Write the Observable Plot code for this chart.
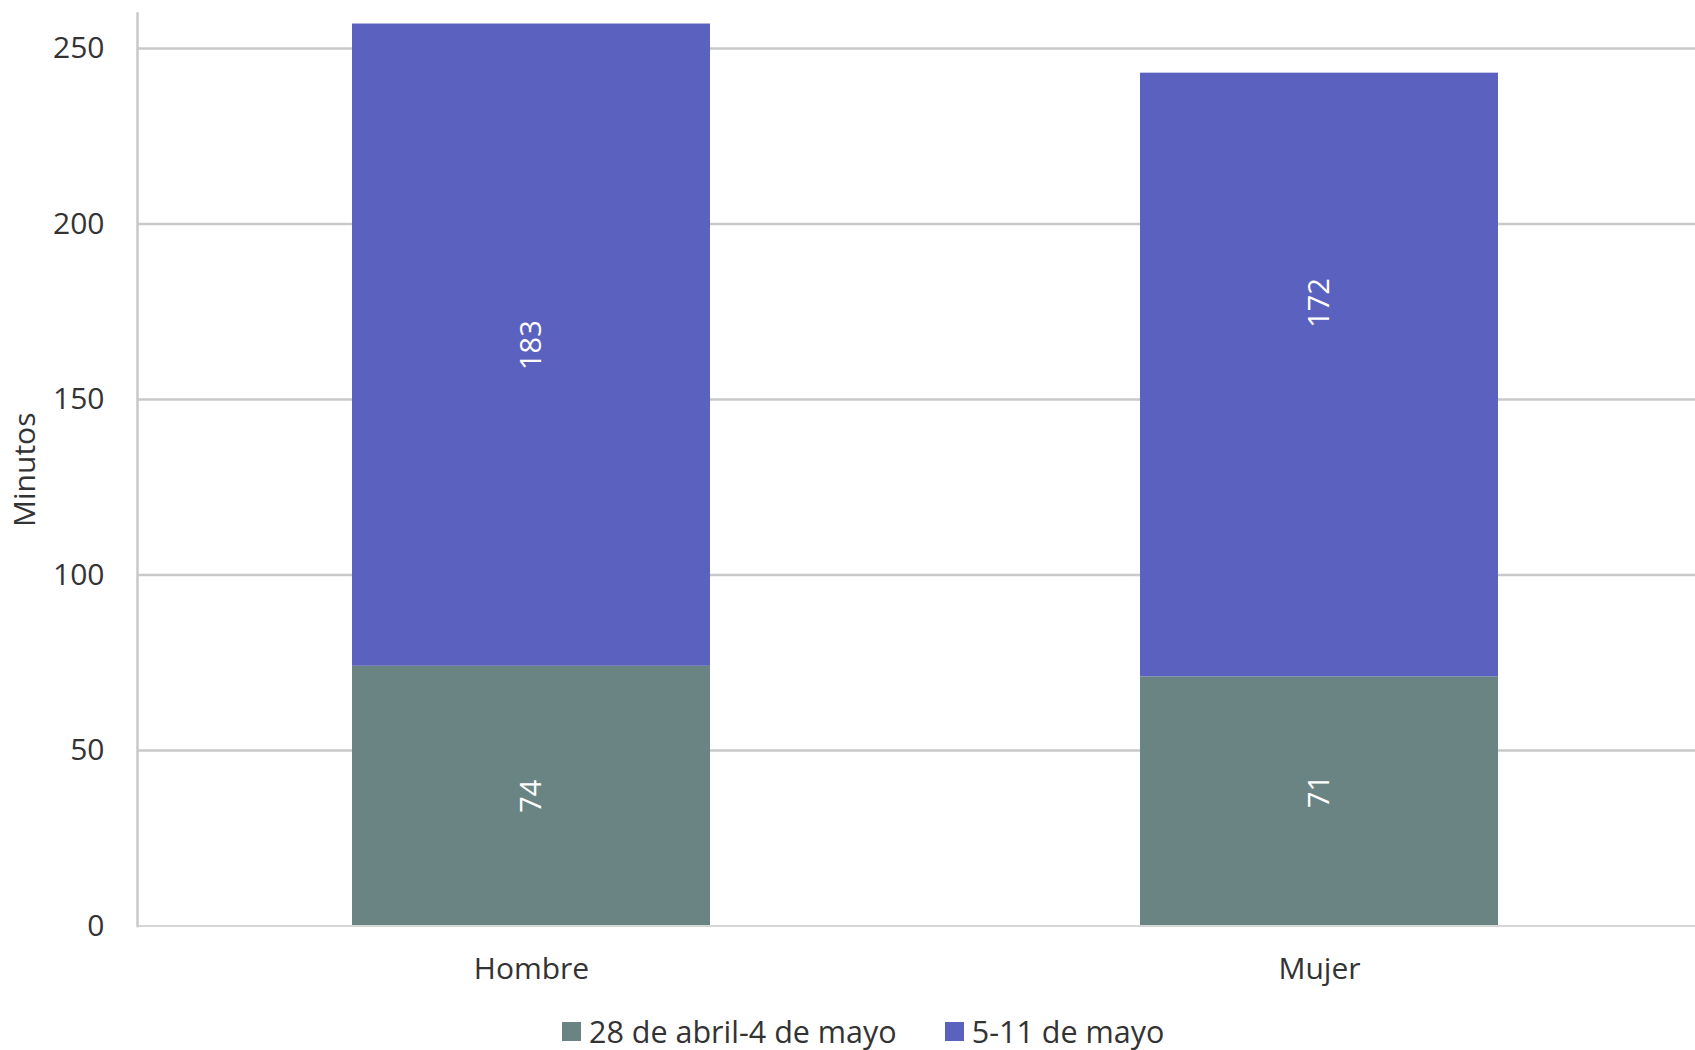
<!DOCTYPE html>
<html><head><meta charset="utf-8">
<script src="https://cdn.jsdelivr.net/npm/d3@7"></script>
<script src="https://cdn.jsdelivr.net/npm/@observablehq/plot@0.6"></script>
<style>
html,body{margin:0;padding:0;background:#fff;overflow:hidden;}
body{font-family:"Open Sans",sans-serif;width:1695px;height:1050px;}
#chart svg{display:block;}
#legend{display:flex;align-items:center;margin-left:562px;margin-top:11px;font-size:30.5px;color:#333;height:40px;font-family:"Open Sans",sans-serif;}
.item{display:flex;align-items:center;margin-right:48px;}
.sw{width:19px;height:19px;margin-right:8px;}
</style></head><body>
<div id="chart"></div><div id="legend"></div>
<script>
const categories = ["Hombre", "Mujer"];
const series = ["28 de abril-4 de mayo", "5-11 de mayo"];
const valuesAbril = [74, 71];
const valuesMayo = [183, 172];
const colors = ["#6a8483", "#5b61be"];
const yTicks = [0, 50, 100, 150, 200, 250];
const yLabel = "Minutos";

const data = categories.flatMap((c, i) => [
  {cat: c, series: series[0], value: valuesAbril[i]},
  {cat: c, series: series[1], value: valuesMayo[i]}
]);

const labelStyle = {rotate: -90, fill: "white", fontSize: 29};
const hombre = data.filter(d => d.cat === categories[0]);
const mujer = data.filter(d => d.cat === categories[1]);

const chart = Plot.plot({
  width: 1695,
  height: 1000,
  marginLeft: 137,
  marginRight: 0,
  marginTop: 13,
  marginBottom: 74.5,
  style: {fontFamily: "'Open Sans', sans-serif", fontSize: "30px", color: "#333", background: "white"},
  x: {domain: categories, range: [137, 1713], paddingInner: 0.546, paddingOuter: 0.273, label: null},
  y: {domain: [0, 260], label: null},
  color: {domain: series, range: colors},
  marks: [
    Plot.ruleY(yTicks.filter(d => d > 0), {stroke: "#c9c9c9", strokeWidth: 2.5}),
    Plot.barY(data, {x: "cat", y: "value", fill: "series", z: "series"}),
    Plot.ruleY([0], {stroke: "#d6d6d6", strokeWidth: 2}),
    Plot.frame({anchor: "left", stroke: "#c9c9c9", strokeWidth: 2.5}),
    Plot.text(hombre, Plot.stackY({x: "cat", y: "value", z: "series", text: d => String(d.value), ...labelStyle})),
    Plot.text(mujer, Plot.stackY({x: "cat", y: "value", z: "series", text: d => d.series === series[0] ? String(d.value) : "", dy: -10, ...labelStyle})),
    Plot.text(mujer, Plot.stackY({x: "cat", y: "value", z: "series", text: d => d.series === series[1] ? String(d.value) : "", dy: -72, ...labelStyle})),
    Plot.axisY({ticks: yTicks, tickSize: 0, tickPadding: 33, label: yLabel, labelAnchor: "center", labelOffset: 124, labelArrow: "none", fontSize: 30, fill: "#333"}),
    Plot.axisX({tickSize: 0, tickPadding: 32, label: null, fontSize: 30, fill: "#333"})
  ]
});
document.getElementById("chart").appendChild(chart);

const legend = document.getElementById("legend");
series.forEach((s, i) => {
  const item = document.createElement("div");
  item.className = "item";
  const sw = document.createElement("span");
  sw.className = "sw";
  sw.style.background = colors[i];
  const t = document.createElement("span");
  t.textContent = s;
  item.appendChild(sw); item.appendChild(t);
  legend.appendChild(item);
});
</script>
</body></html>
